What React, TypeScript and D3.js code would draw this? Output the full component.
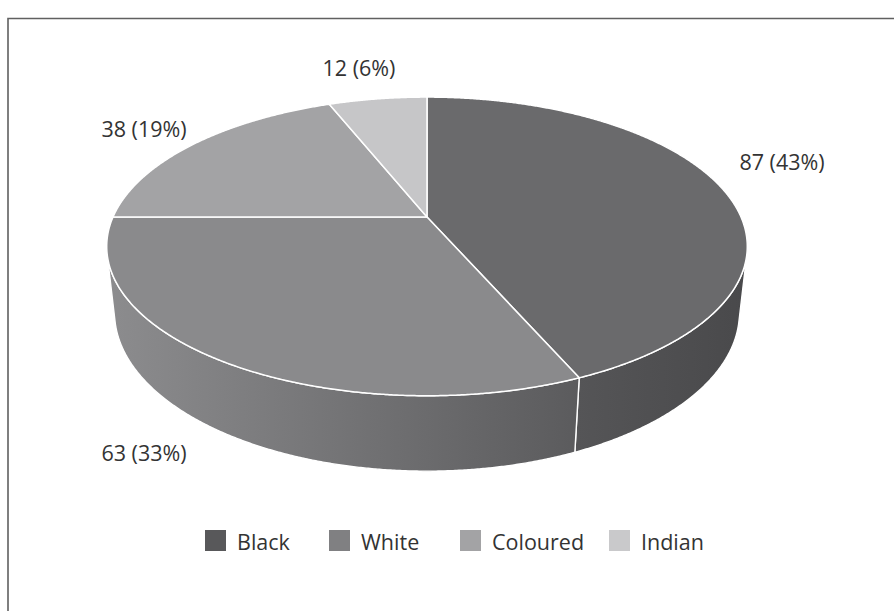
import React from "react";
import * as d3 from "d3";

const categories = ["Black", "White", "Coloured", "Indian"];
const values = [87, 63, 38, 12];
const labels = ["87 (43%)", "63 (33%)", "38 (19%)", "12 (6%)"];
const topColors = ["#6a6a6c", "#8a8a8c", "#a3a3a5", "#c6c6c8"];
const legendColors = ["#58585a", "#808082", "#a3a3a5", "#c9c9cb"];
const labelPos = [
  [782, 161],
  [144, 452],
  [144, 128],
  [359, 67],
];
const legendX = [205, 329, 460, 609];

const W = 894;
const H = 611;
const cx = 427;
const cy = 217;
const R = 314;
const alpha = (27.2 * Math.PI) / 180;
const S = Math.sin(alpha);
const C = Math.cos(alpha);
const D = 1418;
const depth = 75;

function project(theta: number, r: number, Y: number): [number, number] {
  const X = r * Math.sin(theta);
  const Z = -r * Math.cos(theta);
  const yp = Y * C - Z * S;
  const zp = Y * S + Z * C;
  const k = D / (D - zp);
  return [cx + X * k, cy - yp * k];
}

function arcPoints(a0: number, a1: number, Y: number): [number, number][] {
  const n = Math.max(2, Math.ceil(Math.abs(a1 - a0) / 0.005));
  const pts: [number, number][] = [];
  for (let i = 0; i <= n; i++) {
    const t = a0 + ((a1 - a0) * i) / n;
    pts.push(project(t, R, Y));
  }
  return pts;
}

export default function App() {
  const pie = d3.pie<number>().sort(null).value((d) => d);
  const arcs = pie(values);
  const line = d3.line().curve(d3.curveLinear);
  const color = d3.scaleOrdinal<string, string>().domain(categories).range(topColors);

  const vis = Math.acos(-R / (D * C));
  const visStart = vis;
  const visEnd = 2 * Math.PI - vis;

  const walls = arcs
    .map((a, i) => {
      const a0 = Math.max(a.startAngle, visStart);
      const a1 = Math.min(a.endAngle, visEnd);
      if (a1 <= a0) return null;
      const top = arcPoints(a0, a1, 0);
      const bot = arcPoints(a1, a0, -depth);
      return { i, d: line([...top, ...bot]) + "Z" };
    })
    .filter(Boolean) as { i: number; d: string }[];

  const tops = arcs.map((a, i) => {
    const pts = [project(0, 0, 0), ...arcPoints(a.startAngle, a.endAngle, 0)];
    return { i, d: line(pts) + "Z" };
  });

  const font = "'Open Sans', Lato, sans-serif";

  return (
    <svg width={W} height={H} style={{ position: "absolute", left: 0, top: 0 }}>
      <defs>
        <linearGradient id="g1" gradientUnits="userSpaceOnUse" x1={108} y1={0} x2={580} y2={0}>
          <stop offset="0" stopColor="#8c8c8e" />
          <stop offset="0.45" stopColor="#767678" />
          <stop offset="1" stopColor="#5b5b5d" />
        </linearGradient>
        <linearGradient id="g0" gradientUnits="userSpaceOnUse" x1={578} y1={0} x2={748} y2={0}>
          <stop offset="0" stopColor="#555557" />
          <stop offset="1" stopColor="#49494b" />
        </linearGradient>
      </defs>
      <rect x={0} y={0} width={W} height={H} fill="#fff" />
      <path d={`M8,${H} L8,18.5 L${W},18.5`} fill="none" stroke="#606060" strokeWidth={1.6} />
      {walls.map((w) => (
        <path key={"w" + w.i} d={w.d} fill={`url(#g${w.i})`} stroke="#ffffff" strokeWidth={1.4} strokeLinejoin="round" />
      ))}
      {tops.map((t) => (
        <path key={"t" + t.i} d={t.d} fill={color(categories[t.i])} stroke="#ffffff" strokeWidth={1.5} strokeLinejoin="round" />
      ))}
      {labels.map((l, i) => (
        <text key={"l" + i} x={labelPos[i][0]} y={labelPos[i][1]} textAnchor="middle" dominantBaseline="central" fontFamily={font} fontSize={21.5} fill="#333333">
          {l}
        </text>
      ))}
      {categories.map((c, i) => (
        <g key={"lg" + i}>
          <rect x={legendX[i]} y={530} width={21} height={21} fill={legendColors[i]} />
          <text x={legendX[i] + 32} y={541} dominantBaseline="central" fontFamily={font} fontSize={21.5} fill="#333333">
            {c}
          </text>
        </g>
      ))}
    </svg>
  );
}
